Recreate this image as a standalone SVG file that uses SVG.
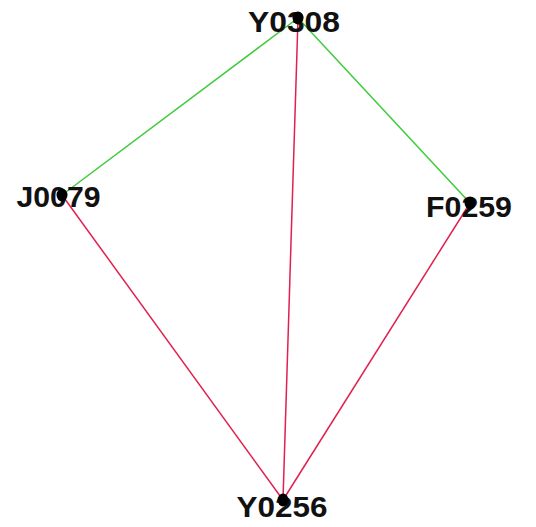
<svg xmlns="http://www.w3.org/2000/svg" width="536" height="527" viewBox="0 0 536 527">
<style>
.g{stroke:#3ccc3c;stroke-width:1.5;fill:none}
.r{stroke:#e0204e;stroke-width:1.5;fill:none}
.dot{fill:#000}
.lbl{font-family:"Liberation Sans",Arial,sans-serif;font-weight:bold;font-size:30px;fill:#111;text-anchor:middle}
</style>
<rect width="536" height="527" fill="#fff"/>
<g id="edges">
<line class="g" x1="298" y1="18" x2="62" y2="195"/>
<line class="g" x1="298" y1="18" x2="470" y2="203"/>
<line class="r" x1="298" y1="18" x2="283" y2="500"/>
<line class="r" x1="62" y1="195" x2="283" y2="500"/>
<line class="r" x1="470" y1="203" x2="283" y2="500"/>
</g>
<g id="Y0308"><text class="lbl" x="294" y="32" textLength="92" lengthAdjust="spacingAndGlyphs">Y0308</text><ellipse class="dot" cx="298" cy="18" rx="5.5" ry="6.5"/></g>
<g id="J0079"><text class="lbl" x="58.5" y="207" textLength="84" lengthAdjust="spacingAndGlyphs">J0079</text><ellipse class="dot" cx="62" cy="195" rx="5.5" ry="6.5"/></g>
<g id="F0259"><text class="lbl" x="469" y="217" textLength="86" lengthAdjust="spacingAndGlyphs">F0259</text><ellipse class="dot" cx="470" cy="203" rx="5.5" ry="6.5"/></g>
<g id="Y0256"><text class="lbl" x="282" y="517" textLength="91" lengthAdjust="spacingAndGlyphs">Y0256</text><ellipse class="dot" cx="283" cy="500" rx="5.5" ry="6.5"/></g>
</svg>
